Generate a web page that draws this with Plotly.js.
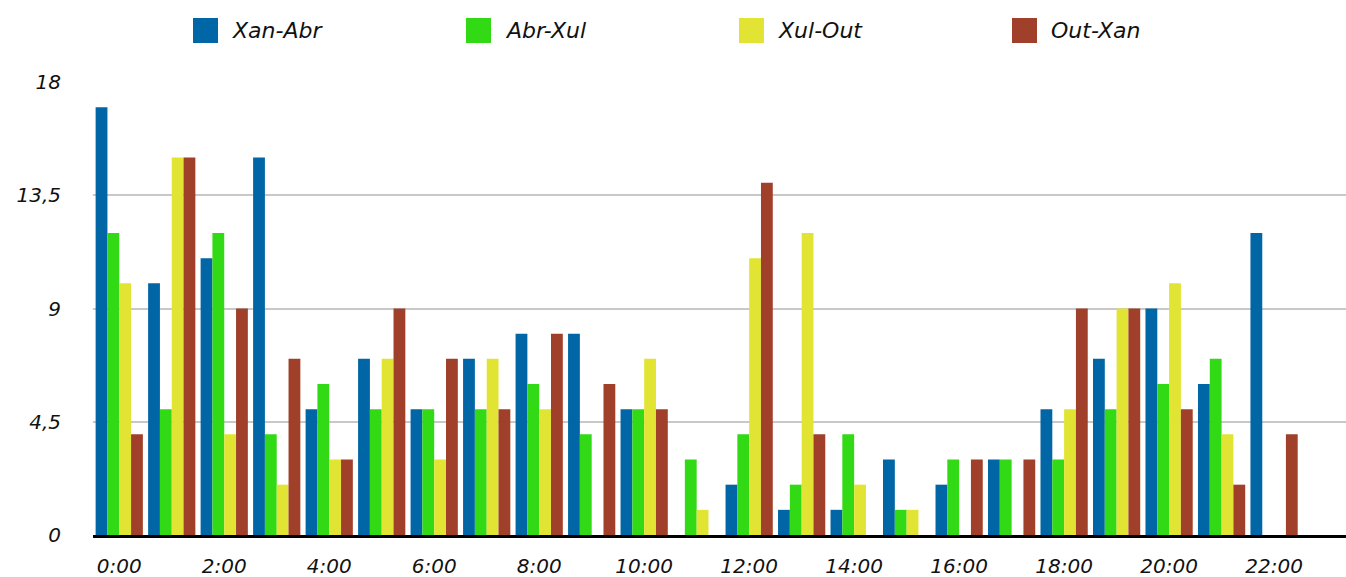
<!DOCTYPE html>
<html>
<head>
<meta charset="utf-8">
<script src="https://cdn.plot.ly/plotly-3.0.1.min.js"></script>
<style>html,body{margin:0;padding:0;background:#fff;}#chart{width:1346px;height:577px;}</style>
</head>
<body>
<div id="chart"></div>
<script>
const hours = ["0:00","1:00","2:00","3:00","4:00","5:00","6:00","7:00","8:00","9:00","10:00","11:00","12:00","13:00","14:00","15:00","16:00","17:00","18:00","19:00","20:00","21:00","22:00","23:00"];
const seriesNames = ["Xan-Abr","Abr-Xul","Xul-Out","Out-Xan"];
const seriesColors = ["#0066a5","#32d915","#e2e433","#a0402a"];
const xanAbr = [17,10,11,15,5,7,5,7,8,8,5,0,2,1,1,3,2,3,5,7,9,6,12,0];
const abrXul = [12,5,12,4,6,5,5,5,6,4,5,3,4,2,4,1,3,3,3,5,6,7,0,0];
const xulOut = [10,15,4,2,3,7,3,7,5,0,7,1,11,12,2,1,0,0,5,9,10,4,0,0];
const outXan = [4,15,9,7,3,9,7,5,8,6,5,0,14,4,0,0,3,3,9,9,5,2,4,0];
const tickLabels = ["0:00","2:00","4:00","6:00","8:00","10:00","12:00","14:00","16:00","18:00","20:00","22:00"];
const yTicks = [0,4.5,9,13.5,18];

const values = [xanAbr, abrXul, xulOut, outXan];
const FONT = {family: "DejaVu Sans, sans-serif", size: 20, color: "#111", style: "italic"};

const traces = values.map((v, i) => ({
  type: "bar", x: hours, y: v, name: seriesNames[i],
  marker: {color: seriesColors[i], line: {width: 0}},
  hoverinfo: "x+y+name", showlegend: false
}));

const L = 93, W = 1253, T = 82, H = 453;
const shapes = [], annotations = [];
seriesNames.forEach((n, i) => {
  const px = 193 + i * 273;
  shapes.push({type: "rect", xref: "paper", yref: "paper",
    x0: (px - L) / W, x1: (px + 25 - L) / W,
    y0: (T + H - 43) / H, y1: (T + H - 18) / H,
    fillcolor: seriesColors[i], line: {width: 0}});
  annotations.push({xref: "paper", yref: "paper", x: (px + 37 - L) / W, y: (T + H - 30.5) / H,
    xanchor: "left", yanchor: "middle", text: n, showarrow: false,
    font: {family: FONT.family, size: 22, color: "#111", style: "italic"}});
});

const layout = {
  width: 1346, height: 577,
  margin: {l: L, r: 0, t: T, b: 577 - T - H, pad: 0},
  paper_bgcolor: "#fff", plot_bgcolor: "#fff",
  barmode: "group", bargap: 0.1, bargroupgap: 0,
  separators: ", ",
  showlegend: false,
  font: FONT,
  xaxis: {
    type: "category", range: [-0.5, 23.37],
    tickmode: "array", tickvals: tickLabels, ticktext: tickLabels,
    ticks: "outside", ticklen: 11, tickcolor: "rgba(0,0,0,0)",
    showgrid: false, showline: true, linecolor: "#000", linewidth: 3,
    tickfont: FONT, fixedrange: true
  },
  yaxis: {
    range: [0, 18], tickmode: "array", tickvals: yTicks,
    ticks: "outside", ticklen: 27, tickcolor: "rgba(0,0,0,0)",
    showgrid: true, gridcolor: "#c8c8c8", gridwidth: 2,
    zeroline: false, showline: false,
    tickfont: FONT, fixedrange: true
  },
  shapes: shapes, annotations: annotations
};

Plotly.newPlot("chart", traces, layout, {displayModeBar: false, staticPlot: true});
</script>
</body>
</html>
